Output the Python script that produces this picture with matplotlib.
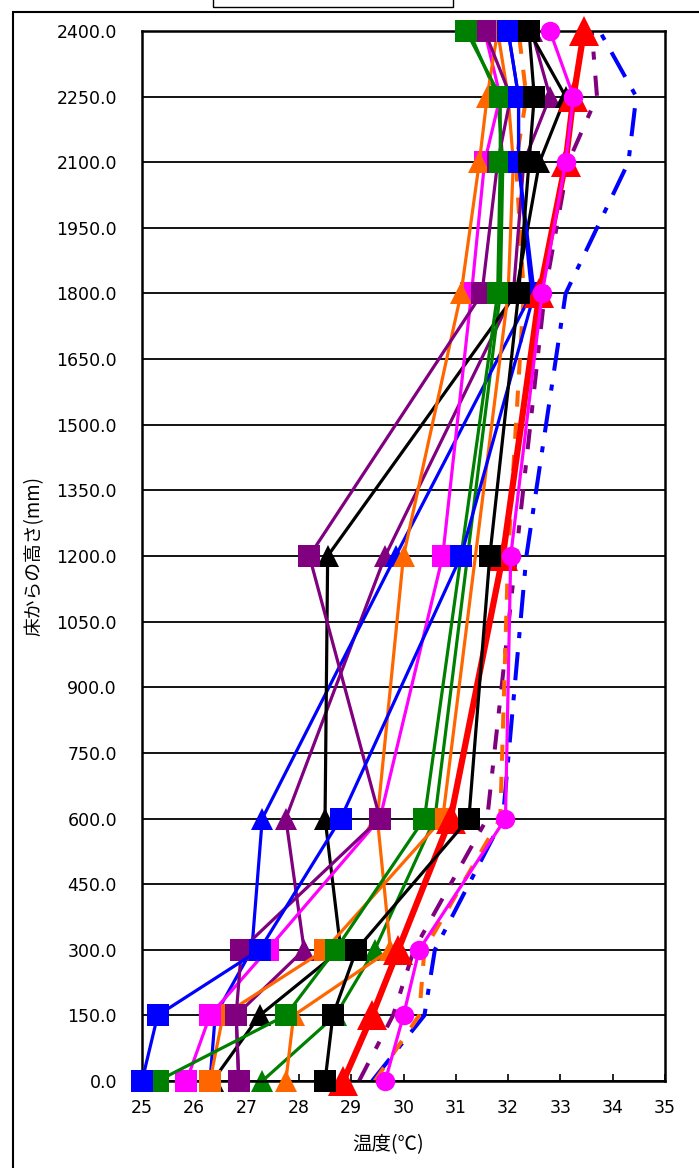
import matplotlib
matplotlib.use("Agg")
import matplotlib.pyplot as plt
from matplotlib.patches import Rectangle

plt.rcParams['font.family'] = ['Noto Sans CJK JP', 'DejaVu Sans']

# Measurement heights above the floor (mm)
heights = [0, 150, 300, 600, 1200, 1800, 2100, 2250, 2400]
heights_no1200 = [0, 150, 300, 600, 1800, 2100, 2250, 2400]

# Temperatures (deg C) per measurement series
blue_sq = [25.0, 25.3, 27.25, 28.8, 31.1, 32.5, 32.2, 32.2, 32.0]
blue_tri = [26.3, 26.4, 27.1, 27.3, 29.85, 32.45, 32.2, 32.2, 32.0]
green_sq = [25.3, 27.75, 28.7, 30.4, 31.8, 31.85, 31.85, 31.2]
green_tri = [27.3, 28.7, 29.45, 30.6, 31.85, 31.9, 31.8, 31.25]
magenta_sq = [25.85, 26.3, 27.4, 29.55, 30.75, 31.3, 31.55, 31.85, 31.55]
orange_sq = [26.3, 26.55, 28.5, 30.75, 32.0, 32.1, 32.0, 31.8]
orange_tri = [27.75, 27.9, 29.75, 29.5, 30.0, 31.1, 31.45, 31.6, 31.8]
purple_sq = [26.85, 26.8, 26.9, 29.55, 28.2, 31.5, 31.8, 32.05, 31.55]
purple_tri = [26.85, 26.8, 28.1, 27.75, 29.65, 32.1, 32.3, 32.8, 32.45]
black_sq = [28.5, 28.65, 29.1, 31.25, 31.65, 32.2, 32.4, 32.5, 32.4]
black_tri = [26.35, 27.25, 28.8, 28.5, 28.55, 32.15, 32.6, 33.1, 32.4]
red_tri = [28.85, 29.4, 29.9, 30.9, 31.9, 32.6, 33.1, 33.25, 33.45]
magenta_circ = [29.65, 30.0, 30.3, 31.95, 32.05, 32.65, 33.1, 33.25, 32.8]
blue_dashdot = [29.4, 30.4, 30.6, 31.9, 32.35, 33.1, 34.3, 34.45, 33.75]
purple_dash = [29.15, 29.8, 30.2, 31.6, 32.15, 32.7, 33.15, 33.7, 33.6]
orange_dash = [29.45, 30.3, 30.4, 31.85, 32.0, 32.3, 32.15, 32.35, 32.2]

x_ticks = [25, 26, 27, 28, 29, 30, 31, 32, 33, 34, 35]
y_ticks = list(range(0, 2401, 150))

W, H = 699, 1168
fig = plt.figure(figsize=(W / 100, H / 100), dpi=100)

# chart-area frame and the (cut-off) legend box at the top
fig.patches.append(Rectangle((13 / W, -0.1), 1.2, 1 - 12 / H + 0.1,
                             transform=fig.transFigure, fill=False,
                             edgecolor='black', lw=1.5))
fig.patches.append(Rectangle((213 / W, 1 - 7 / H), 240 / W, 0.1,
                             transform=fig.transFigure, fill=False,
                             edgecolor='black', lw=1.0))

ax = fig.add_axes([142 / W, 1 - 1081 / H, (665 - 142) / W, (1081 - 31) / H])
ax.set_xlim(25, 35)
ax.set_ylim(0, 2400)

for y in y_ticks:
    ax.axhline(y, color='black', lw=1.3, zorder=0.5)

lw = 2.3
ms = 16

# dashed series without markers
ax.plot(blue_dashdot, heights, color='#0000FF', lw=lw + 0.6,
        linestyle=(0, (7, 3.5, 1.5, 3.5)), zorder=1, clip_on=False)
ax.plot(purple_dash, heights, color='#800080', lw=lw + 0.6,
        linestyle=(0, (5, 4, 2, 4)), zorder=1, clip_on=False)
ax.plot(orange_dash, heights, color='#FF6600', lw=lw + 0.6,
        linestyle=(0, (4, 4)), zorder=1, clip_on=False)


def series(xs, ys, color, marker, size, z, width=lw):
    ax.plot(xs, ys, color=color, lw=width, marker=marker, markersize=size,
            markeredgewidth=0, zorder=z, clip_on=False)


series(purple_tri, heights, '#800080', '^', ms, 2.0)
series(green_tri, heights_no1200, '#008000', '^', ms, 2.1)
series(blue_tri, heights, '#0000FF', '^', ms, 2.2)
series(black_tri, heights, '#000000', '^', ms, 2.3)
series(orange_sq, heights_no1200, '#FF6600', 's', ms, 3.0)
series(magenta_sq, heights, '#FF00FF', 's', ms, 3.1)
series(orange_tri, heights, '#FF6600', '^', ms, 3.15)
series(purple_sq, heights, '#800080', 's', ms, 3.2)
series(green_sq, heights_no1200, '#008000', 's', ms, 3.3)
series(blue_sq, heights, '#0000FF', 's', ms, 3.4)
series(red_tri, heights, '#FF0000', '^', 21, 4.0, width=4.5)
series(black_sq, heights, '#000000', 's', ms, 5.0)
series(magenta_circ, heights, '#FF00FF', 'o', 14, 6.0)

tick_font = dict(fontsize=12.5, family='DejaVu Sans')
ax.set_xticks(x_ticks)
ax.set_xticklabels([str(v) for v in x_ticks], **tick_font)
ax.set_yticks(y_ticks)
ax.set_yticklabels([f"{v:.1f}" for v in y_ticks], **tick_font)
ax.tick_params(axis='x', direction='in', length=5, width=1.2, pad=13)
ax.tick_params(axis='y', length=0, pad=18)
for s in ax.spines.values():
    s.set_linewidth(1.8)

ax.set_xlabel('温度(℃)', fontsize=14)
ax.xaxis.set_label_coords((388 - 142) / (665 - 142), -53 / (1081 - 31))
ax.set_ylabel('床からの高さ(mm)', fontsize=13.5)
ax.yaxis.set_label_coords(-(142 - 45) / (665 - 142), 0.5)

fig.savefig('out.png', dpi=100)
